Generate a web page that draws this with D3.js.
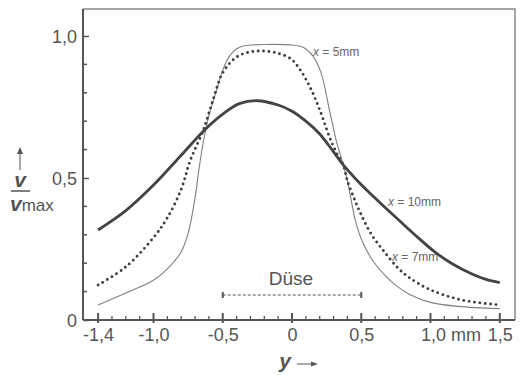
<!DOCTYPE html>
<html><head><meta charset="utf-8">
<script src="https://cdn.jsdelivr.net/npm/d3@7"></script>
<style>
html,body{margin:0;padding:0;background:#fff;}
svg{display:block;font-family:"Liberation Sans",Arial,sans-serif;}
</style></head>
<body><svg id="c" width="523" height="376"></svg>
<script>
// ---- data ----
const xMajorTicks = [-1.4, -1.0, -0.5, 0, 0.5, 1.0, 1.5];
const xTickLabels = ["-1,4", "-1,0", "-0,5", "0", "0,5", "1,0", "1,5"];
const yMajorTicks = [0, 0.5, 1.0];
const yTickLabels = ["0", "0,5", "1,0"];
const nozzleRange = [-0.5, 0.5];
const nozzleLabel = "Düse";
const seriesLabels = ["5mm", "7mm", "10mm"];

const pos5 = [-1.4,-1.2,-1.0,-0.9,-0.8,-0.75,-0.7,-0.676,-0.65,-0.628,-0.6,-0.544,-0.5,-0.45,-0.4,-0.35,-0.2,0,0.08,0.15,0.21,0.27,0.32,0.35,0.37,0.4,0.43,0.455,0.5,0.575,0.67,0.75,0.85,1.0,1.2,1.5];
const val5 = [0.053,0.095,0.14,0.18,0.24,0.305,0.43,0.516,0.6,0.657,0.72,0.81,0.88,0.93,0.955,0.965,0.97,0.968,0.96,0.93,0.87,0.74,0.63,0.58,0.546,0.49,0.415,0.355,0.285,0.215,0.158,0.122,0.09,0.062,0.048,0.04];

const pos7 = [-1.4,-1.2,-1.0,-0.9,-0.8,-0.736,-0.64,-0.57,-0.5,-0.4,-0.3,-0.21,-0.11,-0.01,0.06,0.13,0.2,0.27,0.32,0.37,0.40,0.455,0.5,0.575,0.67,0.765,0.85,1.0,1.23,1.5];
const val7 = [0.123,0.187,0.29,0.36,0.46,0.56,0.669,0.775,0.87,0.926,0.944,0.947,0.94,0.92,0.88,0.82,0.74,0.645,0.59,0.546,0.49,0.42,0.37,0.3,0.238,0.183,0.148,0.106,0.07,0.053];

const pos10 = [-1.4,-1.2,-1.0,-0.8,-0.64,-0.5,-0.38,-0.25,-0.1,0,0.1,0.2,0.3,0.37,0.45,0.55,0.67,0.79,0.91,1.03,1.15,1.3,1.4,1.5];
const val10 = [0.317,0.385,0.475,0.58,0.665,0.725,0.762,0.772,0.757,0.735,0.70,0.655,0.592,0.546,0.502,0.452,0.397,0.343,0.29,0.24,0.2,0.162,0.143,0.132];

// ---- drawing ----
const svg = d3.select("#c");
const ink = "#555";
const x = d3.scaleLinear().domain([-1.509, 1.61]).range([83, 515]);
const y = d3.scaleLinear().domain([0, 1.095]).range([320, 9]);

// frame (top & right)
svg.append("path").attr("d", `M${x.range()[0]},${y(1.095)}H${x.range()[1]}V${y(0)}`)
  .attr("fill","none").attr("stroke","#888").attr("stroke-width",1.5);

// y axis
const yAxis = d3.axisLeft(y).tickValues(yMajorTicks)
  .tickFormat((d,i)=>yTickLabels[i]).tickSizeInner(-6).tickSizeOuter(0).tickPadding(6);
const gy = svg.append("g").attr("transform","translate(83,0)").call(yAxis);
gy.select(".domain").attr("stroke",ink).attr("stroke-width",2).attr("d",`M0,${y(1.095)}V${y(0)}`);
gy.selectAll(".tick line").attr("stroke",ink).attr("stroke-width",1.5);
gy.selectAll(".tick text").attr("fill",ink).attr("font-size",18).attr("dy","0.36em");
const yMinor = d3.range(1,10).map(i=>i/10).filter(v=>v!==0.5);
gy.selectAll(".minor").data(yMinor).join("line").attr("class","minor")
  .attr("x1",0).attr("x2",4).attr("y1",d=>y(d)).attr("y2",d=>y(d))
  .attr("stroke",ink).attr("stroke-width",1.5);

// x axis
const xAxis = d3.axisBottom(x).tickValues(xMajorTicks)
  .tickFormat((d,i)=>xTickLabels[i]).tickSize(0).tickPadding(8);
const gx = svg.append("g").attr("transform","translate(0,320)").call(xAxis);
gx.select(".domain").attr("stroke",ink).attr("stroke-width",2).attr("d",`M83,0H515`);
gx.selectAll(".tick text").attr("fill",ink).attr("font-size",18);
gx.selectAll(".tick").filter(d=>d===1.0).select("text").attr("text-anchor","start").attr("dx",-10)
  .text(null).call(t=>{t.append("tspan").text("1,0"); t.append("tspan").text(" mm");});
const xMinor = d3.range(-14,16).map(i=>i/10);
const isMajor = d=>xMajorTicks.some(m=>Math.abs(m-d)<1e-6);
gx.selectAll(".mtick").data(xMinor).join("line").attr("class","mtick")
  .attr("x1",d=>x(d)).attr("x2",d=>x(d))
  .attr("y1",d=>isMajor(d)?-7:-4)
  .attr("y2",d=>isMajor(d)?3:1)
  .attr("stroke",ink).attr("stroke-width",d=>isMajor(d)?2:1.3);

// curves
const line = d3.line().x(d=>x(d[0])).y(d=>y(d[1])).curve(d3.curveCatmullRom.alpha(0.5));
const s5 = d3.zip(pos5,val5), s7 = d3.zip(pos7,val7), s10 = d3.zip(pos10,val10);
svg.append("path").datum(s5).attr("d",line).attr("fill","none").attr("stroke","#808080").attr("stroke-width",1.1);
svg.append("path").datum(s7).attr("d",line).attr("fill","none").attr("stroke","#3d3d3d")
  .attr("stroke-width",2.9).attr("stroke-linecap","round").attr("stroke-dasharray","0 5.4");
svg.append("path").datum(s10).attr("d",line).attr("fill","none").attr("stroke","#444").attr("stroke-width",2.8);

// series labels
const labs = [[313,52,seriesLabels[0]],[392,257,seriesLabels[1]],[388,202,seriesLabels[2]]];
labs.forEach(([lx,ly,t])=>{
  const tx = svg.append("text").attr("x",lx).attr("y",ly).attr("dy","0.35em").attr("fill","#666").attr("font-size",12);
  tx.append("tspan").attr("font-style","italic").text("x");
  tx.append("tspan").text(" = "+t);
});

// nozzle
const ny = 295;
svg.append("line").attr("x1",x(nozzleRange[0])).attr("x2",x(nozzleRange[1])).attr("y1",ny).attr("y2",ny)
  .attr("stroke",ink).attr("stroke-width",1).attr("stroke-dasharray","3 2");
svg.selectAll(".ncap").data(nozzleRange).join("line").attr("class","ncap")
  .attr("x1",d=>x(d)).attr("x2",d=>x(d)).attr("y1",ny-3).attr("y2",ny+3)
  .attr("stroke",ink).attr("stroke-width",2);
svg.append("text").attr("x",x(0)-1).attr("y",285).attr("text-anchor","middle")
  .attr("fill",ink).attr("font-size",19).text(nozzleLabel);

// axis titles
svg.append("line").attr("x1",20).attr("x2",20).attr("y1",170).attr("y2",150).attr("stroke",ink).attr("stroke-width",1);
svg.append("path").attr("d","M17,154L20,147L23,154Z").attr("fill",ink);
svg.append("text").attr("x",20).attr("y",187).attr("text-anchor","middle").attr("fill",ink)
  .attr("font-size",21).attr("font-weight","bold").attr("font-style","italic").text("v");
svg.append("line").attr("x1",11).attr("x2",30).attr("y1",191).attr("y2",191).attr("stroke",ink).attr("stroke-width",1.5);
const vm = svg.append("text").attr("x",10).attr("y",211).attr("fill",ink);
vm.append("tspan").attr("font-size",21).attr("font-weight","bold").attr("font-style","italic").text("v");
vm.append("tspan").attr("font-size",17).text("max");
svg.append("text").attr("x",285).attr("y",368).attr("text-anchor","middle").attr("fill",ink)
  .attr("font-size",21).attr("font-weight","bold").attr("font-style","italic").text("y");
svg.append("line").attr("x1",297).attr("x2",314).attr("y1",364).attr("y2",364).attr("stroke",ink).attr("stroke-width",1);
svg.append("path").attr("d","M311,361.5L318,364L311,366.5Z").attr("fill",ink);
</script></body></html>
